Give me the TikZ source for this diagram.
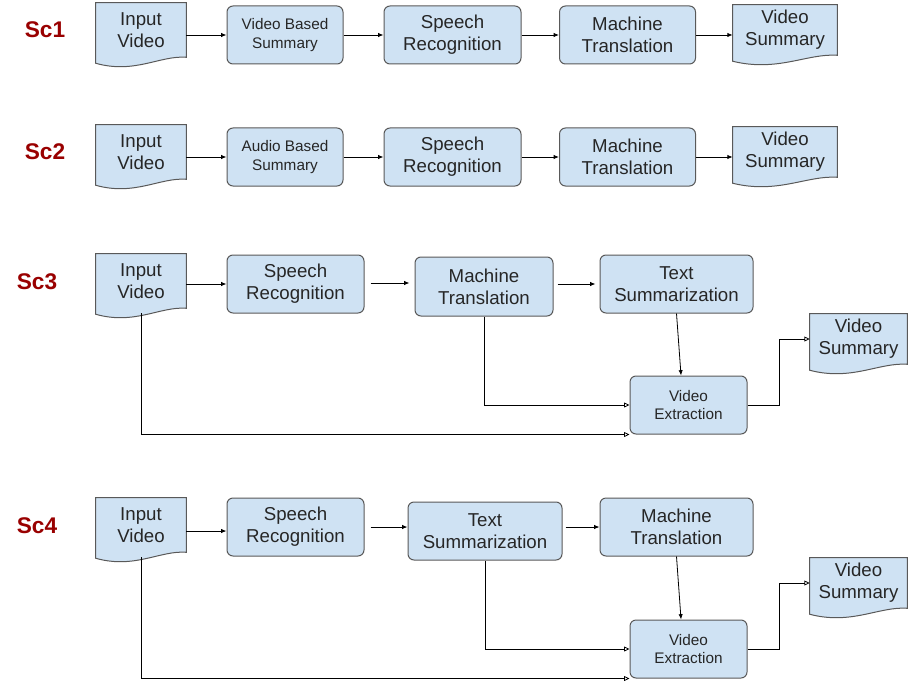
\documentclass[tikz,border=0pt]{standalone}
\usepackage{fontspec}
\setmainfont{Liberation Sans}
\usetikzlibrary{arrows.meta,calc,backgrounds}

\definecolor{boxfill}{HTML}{CFE2F3}
\definecolor{boxline}{HTML}{595959}
\definecolor{sclabel}{HTML}{990000}
\definecolor{txt}{HTML}{262626}

\tikzset{
  proc/.style={draw=boxline, fill=boxfill, rounded corners=4.5pt, line width=0.75pt,
    align=center, text=txt, inner sep=0pt, minimum height=43.5pt,
    font=\fontsize{14}{16.5}\selectfont},
  smalltext/.style={font=\fontsize{11.5}{14}\selectfont},
  docbox/.style={align=center, text=txt, inner sep=0pt,
    font=\fontsize{14}{16.5}\selectfont},
  docline/.style={draw=boxline, fill=boxfill, line width=0.75pt},
  flow/.style={-{Latex[length=4pt,width=3.2pt]}, line width=0.6pt},
  feed/.style={-{Triangle[open,length=4pt,width=3.6pt]}, line width=0.6pt},
  sclab/.style={font=\fontsize{17}{20}\selectfont\bfseries, text=sclabel}
}

% document outline with wavy bottom, drawn behind a named node
\newcommand{\docshape}[1]{%
  \path[docline] (#1.north west) -- (#1.north east) -- (#1.south east)
    .. controls ($(#1.south east)!0.29!(#1.south west)+(0,1.5pt)$)
       and ($(#1.south east)!0.57!(#1.south west)+(0,-12.75pt)$)
    .. ([yshift=-4.5pt]#1.south west) -- cycle;}

\begin{document}
\begin{tikzpicture}[x=0.75pt, y=-0.75pt]
\useasboundingbox (0,0) rectangle (909,681);

% Scenario 1
\node[sclab] (sc1) at (45,30) {Sc1};
\node[docbox, minimum width=67.5pt, minimum height=40.5pt] (iv1) at (141,30) {Input\\Video};
\node[proc, smalltext, minimum width=87pt] (vbs1) at (285,35) {Video Based\\Summary};
\node[proc, minimum width=102.75pt] (sr1) at (452.5,35) {Speech\\Recognition};
\node[proc, minimum width=102pt] (mt1) at (627.5,35) {Machine\\Translation};
\node[docbox, minimum width=78pt, minimum height=37.5pt] (vs1) at (785,30) {Video\\Summary};

\draw[flow] (iv1.east |- vbs1) -- (vbs1);
\draw[flow] (vbs1) -- (sr1);
\draw[flow] (sr1) -- (mt1);
\draw[flow] (mt1) -- (mt1 -| vs1.west);

% Scenario 2
\node[sclab] (sc2) at (45,152) {Sc2};
\node[docbox, minimum width=67.5pt, minimum height=40.5pt] (iv2) at (141,152) {Input\\Video};
\node[proc, smalltext, minimum width=87pt] (abs2) at (285,157) {Audio Based\\Summary};
\node[proc, minimum width=102.75pt] (sr2) at (452.5,157) {Speech\\Recognition};
\node[proc, minimum width=102pt] (mt2) at (627.5,157) {Machine\\Translation};
\node[docbox, minimum width=78pt, minimum height=37.5pt] (vs2) at (785,152) {Video\\Summary};

\draw[flow] (iv2.east |- abs2) -- (abs2);
\draw[flow] (abs2) -- (sr2);
\draw[flow] (sr2) -- (mt2);
\draw[flow] (mt2) -- (mt2 -| vs2.west);

% Scenario 3
\node[sclab] (sc3) at (37,282) {Sc3};
\node[docbox, minimum width=67.5pt, minimum height=40.5pt] (iv3) at (141,281) {Input\\Video};
\node[proc, minimum width=102.75pt] (sr3) at (295.5,284) {Speech\\Recognition};
\node[proc, minimum width=103.5pt, minimum height=44.25pt] (mt3) at (484,286.5) {Machine\\Translation};
\node[proc, minimum width=114.75pt] (ts3) at (676.5,284) {Text\\Summarization};
\node[proc, smalltext, minimum width=87.75pt] (ve3) at (688.5,405) {Video\\Extraction};
\node[docbox, minimum width=72.75pt, minimum height=37.5pt] (vs3) at (858.5,339) {Video\\Summary};

\draw[flow] (iv3.east |- sr3) -- (sr3);
\draw[flow, shorten <=4.5pt, shorten >=3.75pt] (sr3.east |- 0,283) -- (mt3.west |- 0,283);
\draw[flow, shorten <=3pt, shorten >=3pt] (mt3.east |- ts3) -- (ts3);
\draw[flow] (ts3.south) -- ([xshift=-5.6pt]ve3.north);
\draw[feed] (mt3.south) |- (ve3.west);
\draw[feed] ([yshift=-3.75pt]iv3.south) |- (ve3.south west);
\draw[feed] (ve3.east) -- ++(32,0) |- (vs3.west);

% Scenario 4
\node[sclab] (sc4) at (37,526) {Sc4};
\node[docbox, minimum width=67.5pt, minimum height=40.5pt] (iv4) at (141,525) {Input\\Video};
\node[proc, minimum width=102.75pt] (sr4) at (295.5,527) {Speech\\Recognition};
\node[proc, minimum width=115.5pt] (ts4) at (485,531) {Text\\Summarization};
\node[proc, minimum width=114.75pt] (mt4) at (676.5,527) {Machine\\Translation};
\node[proc, smalltext, minimum width=87.75pt] (ve4) at (688.5,649) {Video\\Extraction};
\node[docbox, minimum width=72.75pt, minimum height=37.5pt] (vs4) at (858.5,583) {Video\\Summary};

\draw[flow] (iv4.east |- 0,531) -- (sr4.west |- 0,531);
\draw[flow, shorten <=4.5pt] (sr4) -- (sr4 -| ts4.west);
\draw[flow, shorten <=2.25pt] (ts4.east |- mt4) -- (mt4);
\draw[flow] (mt4.south) -- ([xshift=-5.6pt]ve4.north);
\draw[feed] (ts4.south) |- (ve4.west);
\draw[feed] ([yshift=-3.75pt]iv4.south) |- (ve4.south west);
\draw[feed] (ve4.east) -- ++(32,0) |- (vs4.west);

% document shapes
\begin{scope}[on background layer]
\docshape{iv1} \docshape{vs1}
\docshape{iv2} \docshape{vs2}
\docshape{iv3} \docshape{vs3}
\docshape{iv4} \docshape{vs4}
\end{scope}
\end{tikzpicture}
\end{document}
